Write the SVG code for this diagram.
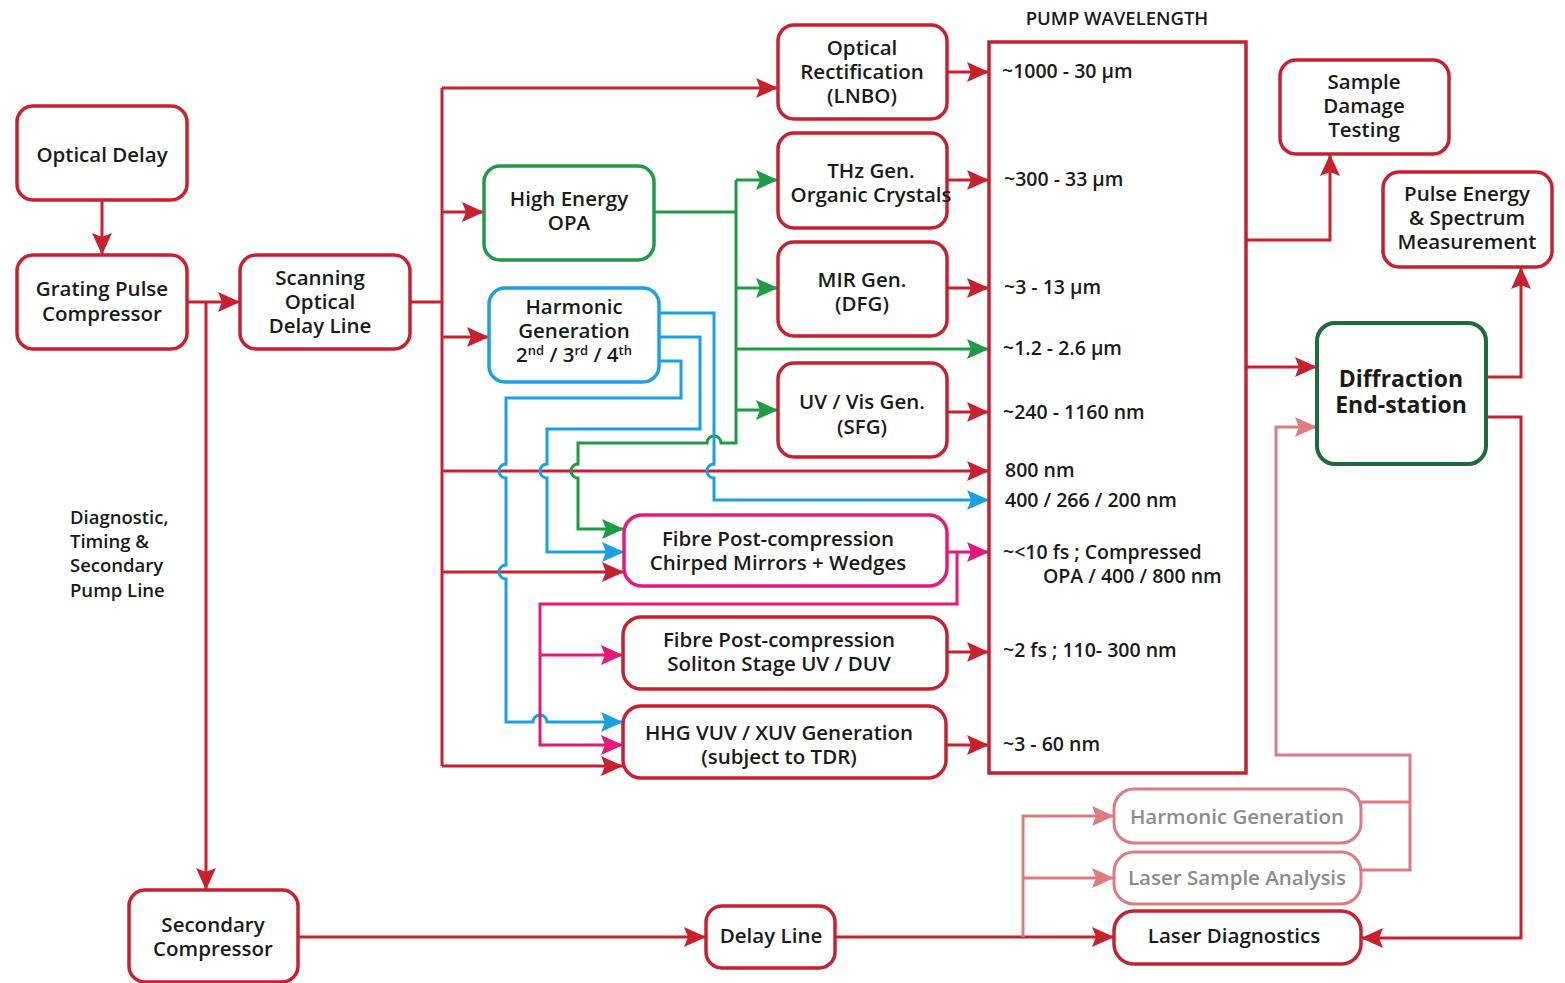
<svg xmlns="http://www.w3.org/2000/svg" width="1565" height="983" viewBox="0 0 1565 983">
<defs>
<style>
.n{fill:#fff;stroke:#C8202F;stroke-width:3.5}
.ng{fill:#fff;stroke:#1F9A45;stroke-width:3.5}
.nb{fill:#fff;stroke:#1BA1E2;stroke-width:3.5}
.np{fill:#fff;stroke:#E6197A;stroke-width:3.5}
.nd{fill:#fff;stroke:#1D6B3A;stroke-width:4}
.nl{fill:#fff;stroke:#E07A82;stroke-width:3}
text{font-family:"Open Sans","Liberation Sans",sans-serif;font-weight:600;font-size:20.5px;fill:#1a1a1a}
.c{text-anchor:middle}
.l{font-size:19.5px}
.d{font-size:18.5px}
.gray{fill:#8C8C8C}
.big{font-size:23px;font-weight:700}
.cr{fill:none;stroke:#C8202F;stroke-width:3}
.cg{fill:none;stroke:#1F9A45;stroke-width:3}
.cb{fill:none;stroke:#1BA1E2;stroke-width:3}
.cp{fill:none;stroke:#E6197A;stroke-width:3}
.cl{fill:none;stroke:#E07A82;stroke-width:3}
</style>
<marker id="ar" markerWidth="24" markerHeight="22" refX="22" refY="11" orient="auto" markerUnits="userSpaceOnUse"><path d="M0,1 L22,11 L0,21 L4,11 Z" fill="#C8202F"/></marker>
<marker id="ag" markerWidth="24" markerHeight="22" refX="22" refY="11" orient="auto" markerUnits="userSpaceOnUse"><path d="M0,1 L22,11 L0,21 L4,11 Z" fill="#1F9A45"/></marker>
<marker id="ab" markerWidth="24" markerHeight="22" refX="22" refY="11" orient="auto" markerUnits="userSpaceOnUse"><path d="M0,1 L22,11 L0,21 L4,11 Z" fill="#1BA1E2"/></marker>
<marker id="ap" markerWidth="24" markerHeight="22" refX="22" refY="11" orient="auto" markerUnits="userSpaceOnUse"><path d="M0,1 L22,11 L0,21 L4,11 Z" fill="#E6197A"/></marker>
<marker id="al" markerWidth="24" markerHeight="22" refX="22" refY="11" orient="auto" markerUnits="userSpaceOnUse"><path d="M0,1 L22,11 L0,21 L4,11 Z" fill="#E07A82"/></marker>
</defs>
<rect width="1565" height="983" fill="#fff"/>

<g id="connectors">
<!-- red -->
<path class="cr" d="M102,200 V255" marker-end="url(#ar)"/>
<path class="cr" d="M187,302 H240" marker-end="url(#ar)"/>
<path class="cr" d="M206,302 V890" marker-end="url(#ar)"/>
<path class="cr" d="M410,302 H442"/>
<path class="cr" d="M442,88 V766"/>
<path class="cr" d="M442,88 H778" marker-end="url(#ar)"/>
<path class="cr" d="M442,212 H484" marker-end="url(#ar)"/>
<path class="cr" d="M442,337 H489" marker-end="url(#ar)"/>
<path class="cr" d="M442,471 H989" marker-end="url(#ar)"/>
<path class="cr" d="M442,572 H624" marker-end="url(#ar)"/>
<path class="cr" d="M442,766 H623" marker-end="url(#ar)"/>
<path class="cr" d="M947,72 H989" marker-end="url(#ar)"/>
<path class="cr" d="M947,180 H989" marker-end="url(#ar)"/>
<path class="cr" d="M947,288 H989" marker-end="url(#ar)"/>
<path class="cr" d="M947,412 H989" marker-end="url(#ar)"/>
<path class="cr" d="M947,652 H989" marker-end="url(#ar)"/>
<path class="cr" d="M946,745 H989" marker-end="url(#ar)"/>
<path class="cr" d="M1246,240 H1330 V154" marker-end="url(#ar)"/>
<path class="cr" d="M1246,367 H1317" marker-end="url(#ar)"/>
<path class="cr" d="M1486,377 H1521 V267" marker-end="url(#ar)"/>
<path class="cr" d="M1486,417 H1521 V938 H1361" marker-end="url(#ar)"/>
<path class="cr" d="M298,937 H706" marker-end="url(#ar)"/>
<path class="cr" d="M835,937 H1114" marker-end="url(#ar)"/>
<!-- light red -->
<path class="cl" d="M1023,937 V816 H1114" marker-end="url(#al)"/>
<path class="cl" d="M1023,878 H1114" marker-end="url(#al)"/>
<path class="cl" d="M1361,802 H1410"/>
<path class="cl" d="M1361,870 H1410 V755 H1276 V427 H1317" marker-end="url(#al)"/>
<!-- green -->
<path class="cg" d="M654,212 H736"/>
<path class="cg" d="M736,180 V443 H721 A7,7 0 0 0 707,443 H578 V464 A7,7 0 0 0 578,478 V529 H624" marker-end="url(#ag)"/>
<path class="cg" d="M736,180 H778" marker-end="url(#ag)"/>
<path class="cg" d="M736,288 H778" marker-end="url(#ag)"/>
<path class="cg" d="M736,349 H989" marker-end="url(#ag)"/>
<path class="cg" d="M736,410 H778" marker-end="url(#ag)"/>
<!-- blue -->
<path class="cb" d="M659,313 H714 V464 A7,7 0 0 0 714,478 V500 H989" marker-end="url(#ab)"/>
<path class="cb" d="M659,337 H700 V429 H547 V464 A7,7 0 0 0 547,478 V552 H624" marker-end="url(#ab)"/>
<path class="cb" d="M659,361 H681 V398 H506 V464 A7,7 0 0 0 506,478 V565 A7,7 0 0 0 506,579 V722 H533 A7,7 0 0 1 547,722 H623" marker-end="url(#ab)"/>
<!-- pink -->
<path class="cp" d="M947,552 H989" marker-end="url(#ap)"/>
<path class="cp" d="M957,552 V604 H540 V745 H623" marker-end="url(#ap)"/>
<path class="cp" d="M540,655 H623" marker-end="url(#ap)"/>
</g>

<g id="optical-delay"><rect class="n" x="17" y="106" width="170" height="94" rx="16"/><text class="c" x="102" y="162">Optical Delay</text></g>
<g id="grating-pulse-compressor"><rect class="n" x="17" y="255" width="170" height="94" rx="16"/><text class="c" x="102" y="296">Grating Pulse</text><text class="c" x="102" y="321">Compressor</text></g>
<g id="scanning-delay-line"><rect class="n" x="240" y="255" width="170" height="94" rx="16"/><text class="c" x="320" y="285">Scanning</text><text class="c" x="320" y="309">Optical</text><text class="c" x="320" y="333">Delay Line</text></g>
<g id="high-energy-opa"><rect class="ng" x="484" y="166" width="170" height="94" rx="16"/><text class="c" x="569" y="206">High Energy</text><text class="c" x="569" y="230">OPA</text></g>
<g id="harmonic-generation"><rect class="nb" x="489" y="288" width="170" height="94" rx="16"/><text class="c" x="574" y="314">Harmonic</text><text class="c" x="574" y="338">Generation</text><text class="c" x="574" y="362">2<tspan font-size="13" dy="-7">nd</tspan><tspan dy="7"> / 3</tspan><tspan font-size="13" dy="-7">rd</tspan><tspan dy="7"> / 4</tspan><tspan font-size="13" dy="-7">th</tspan></text></g>
<g id="optical-rectification"><rect class="n" x="778" y="25" width="169" height="94" rx="16"/><text class="c" x="862" y="55">Optical</text><text class="c" x="862" y="79">Rectification</text><text class="c" x="862" y="103">(LNBO)</text></g>
<g id="thz-gen"><rect class="n" x="778" y="133" width="169" height="95" rx="16"/><text class="c" x="871" y="178">THz Gen.</text><text class="c" x="871" y="202">Organic Crystals</text></g>
<g id="mir-gen"><rect class="n" x="778" y="242" width="169" height="94" rx="16"/><text class="c" x="862" y="287">MIR Gen.</text><text class="c" x="862" y="311">(DFG)</text></g>
<g id="uv-vis-gen"><rect class="n" x="778" y="363" width="169" height="94" rx="16"/><text class="c" x="862" y="409">UV / Vis Gen.</text><text class="c" x="862" y="434">(SFG)</text></g>
<g id="fibre-chirped"><rect class="np" x="624" y="515" width="323" height="71" rx="18"/><text class="c" x="778" y="546">Fibre Post-compression</text><text class="c" x="778" y="570">Chirped Mirrors + Wedges</text></g>
<g id="fibre-soliton"><rect class="n" x="623" y="617" width="324" height="72" rx="18"/><text class="c" x="779" y="647">Fibre Post-compression</text><text class="c" x="779" y="671">Soliton Stage UV / DUV</text></g>
<g id="hhg"><rect class="n" x="623" y="706" width="323" height="72" rx="18"/><text class="c" x="779" y="740">HHG VUV / XUV Generation</text><text class="c" x="779" y="764">(subject to TDR)</text></g>

<g id="pump-wavelength">
<text class="c" x="1117" y="25" style="font-size:18.5px">PUMP WAVELENGTH</text>
<rect x="989" y="42" width="257" height="731" fill="none" stroke="#C8202F" stroke-width="3.5"/>
<text class="l" x="1002" y="78">~1000 - 30 μm</text>
<text class="l" x="1004" y="186">~300 - 33 μm</text>
<text class="l" x="1004" y="294">~3 - 13 μm</text>
<text class="l" x="1003" y="355">~1.2 - 2.6 μm</text>
<text class="l" x="1003" y="419">~240 - 1160 nm</text>
<text class="l" x="1005" y="477">800 nm</text>
<text class="l" x="1005" y="507">400 / 266 / 200 nm</text>
<text class="l" x="1003" y="559">~&lt;10 fs ; Compressed</text>
<text class="l" x="1043" y="583">OPA / 400 / 800 nm</text>
<text class="l" x="1003" y="657">~2 fs ; 110- 300 nm</text>
<text class="l" x="1003" y="751">~3 - 60 nm</text>
</g>

<g id="sample-damage"><rect class="n" x="1280" y="60" width="169" height="94" rx="16"/><text class="c" x="1364" y="89">Sample</text><text class="c" x="1364" y="113">Damage</text><text class="c" x="1364" y="137">Testing</text></g>
<g id="pulse-energy"><rect class="n" x="1383" y="172" width="169" height="95" rx="16"/><text class="c" x="1467" y="201">Pulse Energy</text><text class="c" x="1467" y="225">&amp; Spectrum</text><text class="c" x="1467" y="249">Measurement</text></g>
<g id="diffraction"><rect class="nd" x="1317" y="323" width="169" height="141" rx="18"/><text class="c big" x="1401" y="387">Diffraction</text><text class="c big" x="1401" y="413">End-station</text></g>
<g id="harmonic-generation-2"><rect class="nl" x="1114" y="789" width="247" height="54" rx="20"/><text class="c gray" x="1237" y="824">Harmonic Generation</text></g>
<g id="laser-sample-analysis"><rect class="nl" x="1114" y="852" width="247" height="52" rx="20"/><text class="c gray" x="1237" y="885">Laser Sample Analysis</text></g>
<g id="laser-diagnostics"><rect class="n" x="1114" y="911" width="247" height="53" rx="20"/><text class="c" x="1234" y="943">Laser Diagnostics</text></g>
<g id="delay-line"><rect class="n" x="706" y="906" width="129" height="62" rx="16"/><text class="c" x="771" y="943">Delay Line</text></g>
<g id="secondary-compressor"><rect class="n" x="129" y="890" width="169" height="92" rx="16"/><text class="c" x="213" y="932">Secondary</text><text class="c" x="213" y="956">Compressor</text></g>
<g id="diagnostic-label"><text class="d" x="70" y="524">Diagnostic,</text><text class="d" x="70" y="548">Timing &amp;</text><text class="d" x="70" y="572">Secondary</text><text class="d" x="70" y="597">Pump Line</text></g>
</svg>
